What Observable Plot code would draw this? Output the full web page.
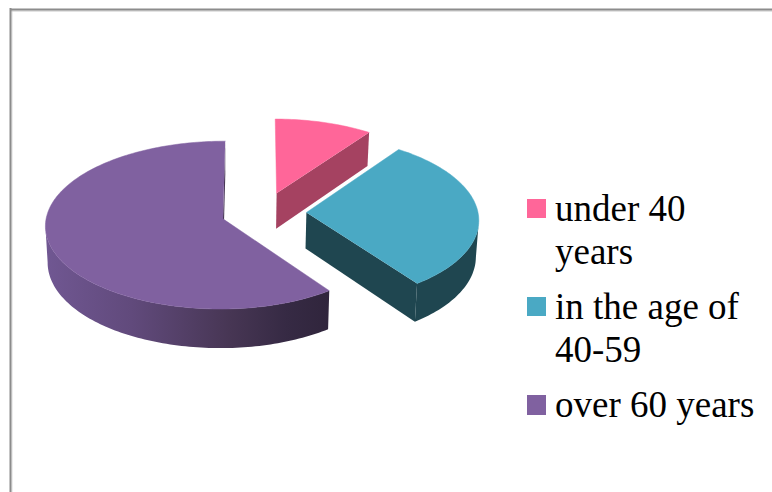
<!DOCTYPE html>
<html>
<head>
<meta charset="utf-8">
<script src="https://cdn.jsdelivr.net/npm/d3@7"></script>
<script src="https://cdn.jsdelivr.net/npm/@observablehq/plot@0.6"></script>
<style>html,body{margin:0;padding:0;background:#fff}svg{display:block}</style>
</head>
<body>
<div id="chart"></div>
<script>
const groups = ["under 40 years", "in the age of 40-59", "over 60 years"];
const legendLabels = ["under 40\nyears", "in the age of\n40-59", "over 60 years"];
const shares = [10, 30, 60];
const topColors = ["#ff6699", "#4aa9c4", "#8061a0"];
const sideColors = ["#a54261", "#1f4650", "url(#purpleSide)"];

// Perspective view of the exploded pie (unit-radius disc → page pixels)
const view = {x0: 231.6, y0: 212, a: 171.6, b: 82.5, k: 0.0738, shift: 0.185, explode: 0.248, depth: 36, squeeze: 0.012, lean: -1.6, leftStretch: 1.025};
function project(u, v, low) {
  const w = (1 - view.k * v) * (low ? 1 + view.squeeze : 1);
  const du = u + view.shift;
  const x = view.x0 + view.a * (du < 0 ? du * view.leftStretch : du) / w + view.lean * v;
  const y = view.y0 + (view.b * v) / (1 - view.k * v) + (low ? view.depth / (1 - view.k * v) : 0);
  return {x, y};
}

const total = d3.sum(shares);
const topPts = [], sidePts = [];
const frontFrom = 70 / 180 * Math.PI, frontTo = 290 / 180 * Math.PI;
let acc = 0;
groups.forEach((g, i) => {
  const t0 = acc / total * 2 * Math.PI;
  acc += shares[i];
  const t1 = acc / total * 2 * Math.PI;
  const mid = (t0 + t1) / 2;
  const ou = view.explode * Math.sin(mid), ov = -view.explode * Math.cos(mid);
  const n = Math.ceil(shares[i] * 3);
  const rim = d3.range(n + 1).map(j => {
    const t = t0 + (t1 - t0) * j / n;
    return {t, p: [ou + Math.sin(t), ov - Math.cos(t)]};
  });
  const apex = [ou, ov];
  [apex, ...rim.map(r => r.p)].forEach(([u, v]) => topPts.push({group: g, ...project(u, v, false)}));
  // Outer wall: only the front stretch, between its left-most and right-most points
  const front = rim.filter(r => r.t >= frontFrom && r.t <= frontTo);
  if (front.length > 1) {
    const xs = front.map(r => project(r.p[0], r.p[1], false).x);
    const a = Math.min(d3.minIndex(xs), d3.maxIndex(xs));
    const b = Math.max(d3.minIndex(xs), d3.maxIndex(xs));
    const band = front.slice(a, b + 1).map(r => r.p);
    band.forEach(([u, v]) => sidePts.push({group: g, face: "rim", ...project(u, v, false)}));
    band.slice().reverse().forEach(([u, v]) => sidePts.push({group: g, face: "rim", ...project(u, v, true)}));
  }
  // Cut wall that faces the viewer
  const end = rim[rim.length - 1].p;
  [[apex, false], [end, false], [end, true], [apex, true]].forEach(([[u, v], low]) =>
    sidePts.push({group: g, face: "cut", ...project(u, v, low)}));
});

const side = g => sidePts.filter(d => d.group === g);
const top_ = g => topPts.filter(d => d.group === g);

const defs = () => {
  const d = d3.create("svg:defs");
  const lg = d.append("linearGradient").attr("id", "purpleSide").attr("gradientUnits", "userSpaceOnUse")
    .attr("x1", 46).attr("x2", 328).attr("y1", 0).attr("y2", 0);
  [[0, "#705792"], [0.3, "#614a7c"], [0.65, "#473654"], [0.85, "#362a44"], [1, "#30253c"]]
    .forEach(([o, c]) => lg.append("stop").attr("offset", o).attr("stop-color", c));
  return d.node();
};

const rowTops = [190, 288, 386];
const swatch = [[527, 199, 546, 218], [527, 297, 546, 316], [527, 395, 546, 415]];
const legendRows = legendLabels.map((label, i) => ({label, color: topColors[i], sw: swatch[i], top: rowTops[i]}));

const marks = [
  defs,
  Plot.ruleX([11.5], {y1: 10, y2: 492, stroke: "#dcdcdc", strokeWidth: 1}),
  Plot.ruleY([10.5], {x1: 11, x2: 772, stroke: "#c8c8c8", strokeWidth: 1}),
  Plot.ruleX([10], {y1: 8, y2: 492, stroke: "#8c8c8c", strokeWidth: 2}),
  Plot.ruleY([9], {x1: 10, x2: 772, stroke: "#8c8c8c", strokeWidth: 2})
];
groups.forEach((g, i) => {
  marks.push(Plot.line(side(g), {x: "x", y: "y", z: "face", fill: sideColors[i], curve: "linear", stroke: "none"}));
  marks.push(Plot.line(top_(g), {x: "x", y: "y", fill: topColors[i], stroke: topColors[i], strokeWidth: 0.5, curve: "linear"}));
});
marks.push(Plot.rect(legendRows, {x1: d => d.sw[0], y1: d => d.sw[1], x2: d => d.sw[2], y2: d => d.sw[3], fill: "color"}));
marks.push(Plot.text(legendRows, {
  x: 554.5, y: "top", text: "label", textAnchor: "start", lineAnchor: "top",
  fontSize: 37, lineHeight: 1.155, fill: "#000", fontFamily: "Liberation Serif"
}));

document.getElementById("chart").append(Plot.plot({
  width: 772, height: 492,
  marginTop: 0, marginRight: 0, marginBottom: 0, marginLeft: 0,
  x: {domain: [0, 772], range: [0, 772], axis: null},
  y: {domain: [0, 492], range: [0, 492], axis: null},
  marks
}));
</script>
</body>
</html>
